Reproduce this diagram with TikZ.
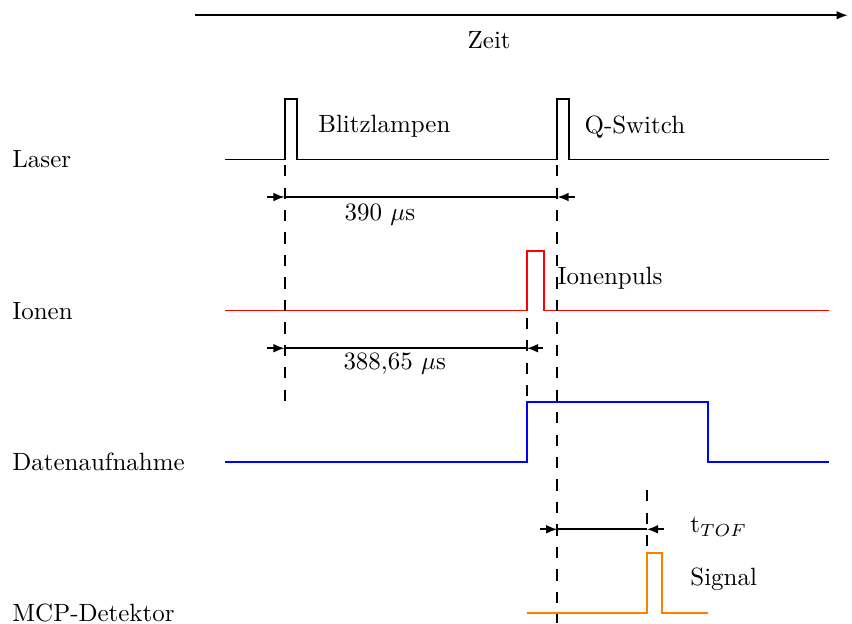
\documentclass[tikz,border=0pt]{standalone}
\usepackage{tikz}
\usetikzlibrary{arrows.meta}

\begin{document}
\begin{tikzpicture}[
    sig/.style={line width=0.7pt},
    guide/.style={line width=0.7pt, dash pattern=on 4.5pt off 4.5pt},
    dimtip/.style={line width=0.7pt, -{Latex[length=4.5pt, width=3.5pt]}}
  ]
  \useasboundingbox (0,0) rectangle (12,8.775);

  % Zeitachse
  \draw[line width=0.7pt, -{Latex[length=4.5pt, width=3.5pt]}] (2.75,8.56) -- (11.94,8.56);
  \node at (6.89,8.21) {Zeit};

  % Kanalnamen
  \foreach \y/\name in {6.53/Laser, 4.40/Ionen, 2.27/Datenaufnahme, 0.14/MCP-Detektor} {
    \node[right] at (0.05,\y) {\name};
  }

  % Laser
  \draw[sig] (3.17,6.53) -- (4.01,6.53) -- (4.01,7.38) -- (4.18,7.38) -- (4.18,6.53)
    -- (7.85,6.53) -- (7.85,7.38) -- (8.01,7.38) -- (8.01,6.53) -- (11.68,6.53);
  \node[right] at (4.36,6.99) {Blitzlampen};
  \node[right] at (8.11,6.99) {Q-Switch};

  % Ionen
  \draw[sig, red] (3.17,4.40) -- (7.42,4.40) -- (7.42,5.24) -- (7.66,5.24) -- (7.66,4.40) -- (11.68,4.40);
  \node[right] at (7.73,4.86) {Ionenpuls};

  % Datenaufnahme
  \draw[sig, blue] (3.17,2.27) -- (7.42,2.27) -- (7.42,3.11) -- (9.97,3.11) -- (9.97,2.27) -- (11.68,2.27);

  % MCP-Detektor
  \draw[sig, orange] (7.42,0.14) -- (9.11,0.14) -- (9.11,0.99) -- (9.32,0.99) -- (9.32,0.14) -- (9.97,0.14);
  \node[right] at (9.60,0.62) {Signal};

  % Hilfslinien
  \draw[guide] (4.01,6.45) -- (4.01,3.07);
  \draw[guide] (7.85,6.45) -- (7.85,0);
  \draw[guide] (7.42,4.30) -- (7.42,3.11);
  \draw[guide] (9.11,1.87) -- (9.11,0.99);

  % Zeitabstaende
  \coordinate (blitz1) at (4.01,6.00);
  \coordinate (qsw1) at (7.85,6.00);
  \draw[dimtip] (3.76,6.00) -- (blitz1);
  \draw[sig] (blitz1) -- (qsw1);
  \draw[dimtip] (8.10,6.00) -- (qsw1);
  \node at (5.35,5.75) {390 $\mu$s};

  \coordinate (blitz2) at (4.01,3.87);
  \coordinate (ion2) at (7.42,3.87);
  \draw[dimtip] (3.76,3.87) -- (blitz2);
  \draw[sig] (blitz2) -- (ion2);
  \draw[dimtip] (7.65,3.87) -- (ion2);
  \node at (5.56,3.65) {388,65 $\mu$s};

  \coordinate (qsw3) at (7.85,1.32);
  \coordinate (sig3) at (9.11,1.32);
  \draw[dimtip] (7.61,1.32) -- (qsw3);
  \draw[sig] (qsw3) -- (sig3);
  \draw[dimtip] (9.35,1.32) -- (sig3);
  \node[right] at (9.60,1.35) {t$_{TOF}$};
\end{tikzpicture}
\end{document}
